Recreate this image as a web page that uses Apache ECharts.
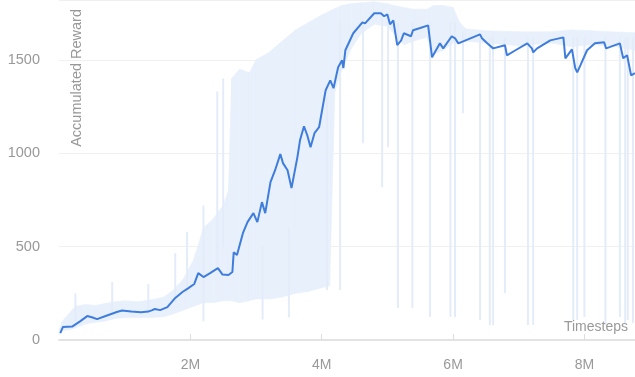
<!DOCTYPE html>
<html>
<head>
<meta charset="utf-8">
<script src="https://cdn.jsdelivr.net/npm/echarts@6/dist/echarts.min.js"></script>
<style>
    html, body { margin: 0; padding: 0; background: #fff; }
    #chart { width: 635px; height: 377px; }
</style>
</head>
<body>
<div id="chart"></div>
<script>
// timesteps in millions, reward values
var xTicks = [2, 4, 6, 8];
var yTicks = [0, 500, 1000, 1500];

// smoothed reward curve
var smoothSteps = [0.02, 0.06, 0.2, 0.32, 0.43, 0.5, 0.58, 0.72, 0.88, 0.96, 1.1, 1.25, 1.36, 1.42, 1.46, 1.54, 1.65,
    1.77, 1.88, 1.97, 2.06, 2.12, 2.2, 2.3, 2.42, 2.49, 2.58, 2.64, 2.66, 2.71, 2.8, 2.87, 2.96, 3.02, 3.09, 3.14,
    3.22, 3.29, 3.37, 3.41, 3.48, 3.54, 3.63, 3.67, 3.73, 3.78, 3.83, 3.89, 3.96, 4.06, 4.13, 4.18, 4.25, 4.31,
    4.33, 4.36, 4.48, 4.62, 4.66, 4.8, 4.9, 4.95, 5.0, 5.04, 5.09, 5.15, 5.21, 5.25, 5.36, 5.39, 5.5, 5.62,
    5.68, 5.8, 5.85, 5.98, 6.03, 6.08, 6.41, 6.44, 6.52, 6.61, 6.64, 6.79, 6.82, 6.95, 7.13, 7.2, 7.22, 7.28,
    7.48, 7.68, 7.71, 7.81, 7.86, 7.89, 7.94, 8.04, 8.16, 8.3, 8.33, 8.54, 8.59, 8.65, 8.71, 8.77];
var smoothReward = [37, 70, 72, 100, 128, 122, 112, 130, 150, 158, 152, 148, 152, 160, 166, 160, 176,
    225, 257, 278, 300, 358, 337, 358, 385, 350, 348, 364, 470, 455, 572, 631, 679, 631, 738, 679,
    845, 909, 995, 947, 909, 813, 979, 1070, 1144, 1096, 1032, 1107, 1139, 1337, 1390, 1348, 1460, 1497,
    1455, 1551, 1642, 1700, 1695, 1749, 1749, 1733, 1743, 1690, 1711, 1578, 1604, 1642, 1626, 1658, 1670, 1684,
    1513, 1588, 1561, 1626, 1615, 1588, 1636, 1615, 1588, 1561, 1551, 1578, 1524, 1551, 1588, 1561, 1540, 1561,
    1604, 1620, 1508, 1556, 1455, 1433, 1471, 1551, 1588, 1594, 1561, 1588, 1508, 1524, 1417, 1428];

// raw reward spread (light band)
var bandSteps = [0, 0.05, 0.15, 0.25, 0.4, 0.55, 0.7, 0.85, 1.0, 1.2, 1.4, 1.6, 1.75, 1.9, 2.05, 2.2, 2.35, 2.5,
    2.58, 2.63, 2.75, 2.9, 3.0, 3.2, 3.4, 3.6, 3.8, 4.0, 4.12, 4.2, 4.3, 4.45, 4.6, 4.8, 5.0, 5.1, 5.25, 5.4, 5.6,
    5.7, 5.85, 6.0, 6.1, 6.2, 6.5, 7.0, 7.5, 7.8, 8.1, 8.4, 8.77];
var bandLow = [30, 50, 55, 65, 85, 95, 100, 115, 120, 120, 120, 125, 140, 160, 180, 200, 200, 210,
    210, 210, 200, 210, 220, 220, 230, 250, 260, 280, 290, 1330, 1440, 1560, 1640, 1690, 1680, 1640, 1580, 1600, 1620,
    1530, 1550, 1590, 1590, 1600, 1590, 1575, 1590, 1570, 1580, 1575, 1550];
var bandHigh = [50, 100, 140, 180, 190, 185, 195, 205, 210, 205, 215, 230, 270, 330, 430, 600, 650, 720,
    800, 1400, 1450, 1430, 1500, 1540, 1600, 1660, 1700, 1740, 1760, 1775, 1790, 1800, 1805, 1810, 1800, 1790, 1780, 1770, 1770,
    1790, 1790, 1780, 1700, 1665, 1655, 1650, 1650, 1660, 1655, 1650, 1645];

// single raw episodes that leave the band
var spikeSteps = [0.25, 0.81, 1.36, 1.77, 1.95, 2.2, 2.41, 2.5, 2.2, 3.5, 3.1, 4.08, 4.28, 4.63, 4.92, 5.01, 5.16, 5.38,
    5.65, 5.96, 6.03, 6.15, 6.41, 6.56, 6.61, 6.79, 7.14, 7.22, 7.83, 7.89, 8.0, 8.32, 8.54, 8.62, 8.66, 8.74];
var spikeFrom = [100, 150, 150, 200, 250, 300, 400, 500, 300, 600, 500, 1300, 1700, 1700, 1750, 1750, 1700, 1700,
    1700, 1700, 1700, 1650, 1620, 1620, 1620, 1620, 1620, 1620, 1620, 1620, 1620, 1620, 1620, 1620, 1620, 1620];
var spikeTo = [250, 310, 300, 465, 580, 720, 1330, 1400, 100, 120, 110, 267, 267, 1053, 818, 1032, 171, 171,
    123, 123, 123, 1214, 107, 80, 80, 251, 80, 80, 107, 107, 123, 80, 123, 91, 107, 91];

var font = 'Liberation Sans, Arial, sans-serif';

// one quad per band segment: [t0, low0, high0, t1, low1, high1]
var bandData = [], spikeData = [], smoothData = [];
for (var i = 0; i < bandSteps.length - 1; i++) {
    bandData.push([bandSteps[i], bandLow[i], bandHigh[i], bandSteps[i + 1], bandLow[i + 1], bandHigh[i + 1]]);
}
for (var j = 0; j < spikeSteps.length; j++) {
    spikeData.push([spikeSteps[j], spikeFrom[j]]);
    spikeData.push([spikeSteps[j], spikeTo[j]]);
    spikeData.push([spikeSteps[j], '-']);
}
for (var k = 0; k < smoothSteps.length; k++) {
    smoothData.push([smoothSteps[k], smoothReward[k]]);
}

function renderBand(params, api) {
    var a = api.coord([api.value(0), api.value(1)]);
    var b = api.coord([api.value(3), api.value(4)]);
    var c = api.coord([api.value(3), api.value(5)]);
    var d = api.coord([api.value(0), api.value(2)]);
    return {
        type: 'polygon',
        shape: {points: [a, b, c, d]},
        style: {fill: '#e8f0fc', stroke: '#e8f0fc', lineWidth: 0.6}
    };
}

var myChart = echarts.init(document.getElementById('chart'), null, {renderer: 'canvas'});

var option = {
    animation: false,
    backgroundColor: '#fff',
    textStyle: {fontFamily: font},
    grid: {left: 59, right: 0, top: 0, bottom: 37},
    graphic: [{
        type: 'text',
        x: 69,
        y: 9,
        z: 100,
        rotation: Math.PI / 2,
        style: {
            text: 'Accumulated Reward',
            fill: '#999',
            font: '14.5px ' + font,
            align: 'right',
            verticalAlign: 'top'
        }
    }],
    xAxis: {
        type: 'value',
        min: 0,
        max: 8.77,
        interval: 2,
        z: 10,
        name: 'Timesteps',
        nameLocation: 'end',
        nameGap: -7,
        nameTextStyle: {color: '#999', fontSize: 14, align: 'right', verticalAlign: 'bottom', padding: [0, 0, 6, 0]},
        axisLine: {lineStyle: {color: '#e3e3e3', width: 2}},
        axisTick: {inside: true, length: 6, lineStyle: {color: '#ddd'}},
        splitLine: {show: false},
        axisLabel: {
            color: '#999',
            fontSize: 14,
            margin: 18,
            showMinLabel: false,
            showMaxLabel: false,
            formatter: function (v) {
                return xTicks.indexOf(v) >= 0 ? v + 'M' : '';
            }
        }
    },
    yAxis: {
        type: 'value',
        min: 0,
        max: 1820,
        interval: 500,
        axisLine: {show: false},
        axisTick: {show: false},
        splitLine: {lineStyle: {color: '#f0f0f0'}},
        axisLabel: {
            color: '#999',
            fontSize: 14.5,
            margin: 19,
            showMaxLabel: false,
            formatter: function (v) {
                return yTicks.indexOf(v) >= 0 ? String(v) : '';
            }
        }
    },
    series: [
        {
            type: 'custom',
            data: bandData,
            silent: true,
            renderItem: renderBand,
            encode: {x: [0, 3], y: [1, 2, 4, 5]}
        },
        {
            type: 'line',
            data: spikeData,
            showSymbol: false,
            silent: true,
            connectNulls: false,
            lineStyle: {color: '#e4ecfa', width: 2}
        },
        {
            type: 'line',
            data: smoothData,
            showSymbol: false,
            lineStyle: {color: '#3f7ddc', width: 2}
        }
    ]
};

myChart.setOption(option);
</script>
</body>
</html>
